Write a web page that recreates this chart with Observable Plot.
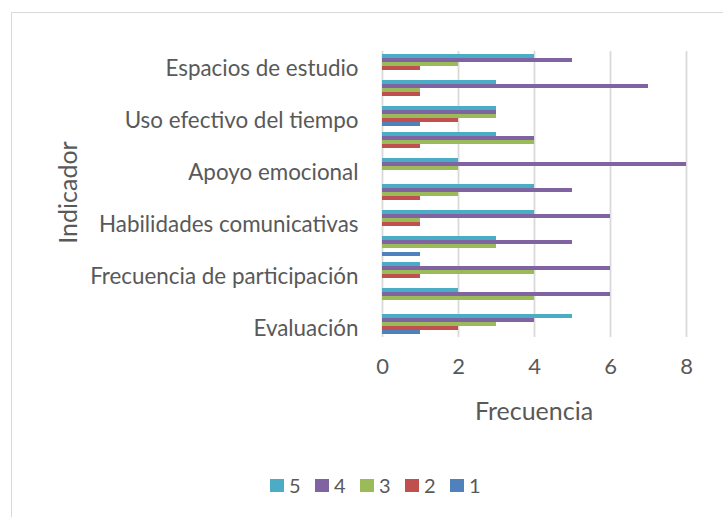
<!DOCTYPE html>
<html>
<head>
<meta charset="utf-8">
<script src="https://cdn.jsdelivr.net/npm/d3@7"></script>
<script src="https://cdn.jsdelivr.net/npm/@observablehq/plot@0.6"></script>
<style>
  html, body { margin: 0; padding: 0; background: #fff; }
  #wrap { position: relative; width: 723px; height: 517px; overflow: hidden; font-family: Lato, "Open Sans", sans-serif; }
  #border { position: absolute; left: 11px; top: 12px; width: 800px; height: 600px; border: 1px solid #d9d9d9; box-sizing: border-box; }
  #chart { position: absolute; left: 0; top: 0; }
  #legend { position: absolute; left: 270px; top: 478px; display: flex; align-items: center; color: #595959; font-size: 20px; line-height: 14px; }
  .item { display: flex; align-items: center; width: 45px; }
  .sw { width: 14px; height: 13px; margin-right: 5px; }
</style>
</head>
<body>
<div id="wrap">
  <div id="border"></div>
  <div id="chart"></div>
  <div id="legend"></div>
</div>
<script>
// Categories, top to bottom (only every other one is labelled in the original)
const categories = [
  "Espacios de estudio", "Indicador 2", "Uso efectivo del tiempo", "Indicador 4",
  "Apoyo emocional", "Indicador 6", "Habilidades comunicativas", "Indicador 8",
  "Frecuencia de participación", "Indicador 10", "Evaluación"
];
const shownLabels = ["Espacios de estudio", "Uso efectivo del tiempo", "Apoyo emocional",
  "Habilidades comunicativas", "Frecuencia de participación", "Evaluación"];
const seriesNames = ["5", "4", "3", "2", "1"];
const seriesColors = ["#4BACC6", "#8064A2", "#9BBB59", "#C0504D", "#4F81BD"];
const values5 = [4, 3, 3, 3, 2, 4, 4, 3, 1, 2, 5];
const values4 = [5, 7, 3, 4, 8, 5, 6, 5, 6, 6, 4];
const values3 = [2, 1, 3, 4, 2, 2, 1, 3, 4, 4, 3];
const values2 = [1, 1, 2, 1, 0, 1, 1, 0, 1, 0, 2];
const values1 = [0, 0, 1, 0, 0, 0, 0, 1, 0, 0, 1];
const xTicks = [0, 2, 4, 6, 8];

const seriesValues = [values5, values4, values3, values2, values1];
const data = [];
categories.forEach((c, i) => {
  seriesNames.forEach((s, j) => data.push({category: c, series: s, value: seriesValues[j][i]}));
});

const textColor = "#595959";
const chart = Plot.plot({
  width: 723,
  height: 517,
  marginLeft: 382,
  marginRight: 37,
  marginTop: 49,
  marginBottom: 179,
  style: {fontFamily: "Lato, 'Open Sans', sans-serif", fontSize: "19px", color: textColor, background: "transparent"},
  x: {domain: [0, 8], ticks: xTicks, axis: null},
  y: {domain: seriesNames, axis: null, paddingInner: 0, paddingOuter: 0.7, align: 0.5},
  fy: {domain: categories, padding: 0, label: null, axis: null},
  color: {domain: seriesNames, range: seriesColors},
  marks: [
    Plot.ruleX(xTicks, {stroke: "#d9d9d9", strokeWidth: 1.8}),
    Plot.barX(data, {fy: "category", y: "series", x: "value", fill: "series"}),
    Plot.axisX({ticks: xTicks, tickSize: 0, tickPadding: 21, fontSize: 22, label: null}),
    Plot.axisFy({anchor: "left", ticks: shownLabels, tickSize: 0, tickPadding: 24, dy: 4, label: null, fontSize: 22.4}),
  ]
});
document.getElementById("chart").appendChild(chart);

const svg = d3.select(chart);
svg.append("text")
  .attr("transform", `translate(67, ${(47 + 338) / 2}) rotate(-90)`)
  .attr("text-anchor", "middle")
  .attr("dominant-baseline", "central")
  .attr("fill", textColor)
  .style("font-size", "25px")
  .text("Indicador");
svg.append("text")
  .attr("x", (382 + 686) / 2)
  .attr("y", 410)
  .attr("text-anchor", "middle")
  .attr("dominant-baseline", "central")
  .attr("fill", textColor)
  .style("font-size", "25px")
  .text("Frecuencia");

const legend = d3.select("#legend");
seriesNames.forEach((s, i) => {
  const it = legend.append("div").attr("class", "item");
  it.append("div").attr("class", "sw").style("background", seriesColors[i]);
  it.append("span").text(s);
});
</script>
</body>
</html>
